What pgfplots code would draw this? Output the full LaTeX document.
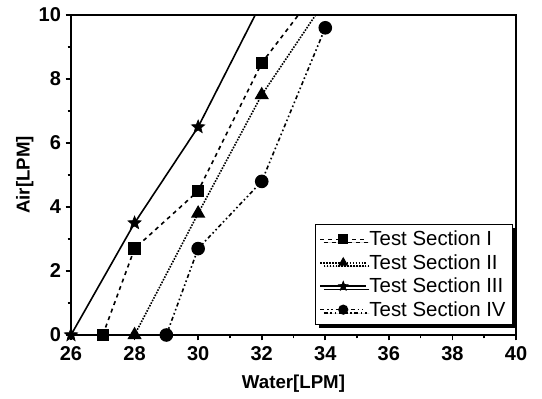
\documentclass[border=0pt]{standalone}
\usepackage{fontspec}
\setmainfont{Liberation Sans}
\usepackage{pgfplots}
\pgfplotsset{compat=1.18}
\usetikzlibrary{shadows}
\pgfdeclareplotmark{fstar}{%
  \pgfpathmoveto{\pgfqpointpolar{90}{1.15\pgfplotmarksize}}%
  \pgfpathlineto{\pgfqpointpolar{126}{0.5\pgfplotmarksize}}%
  \pgfpathlineto{\pgfqpointpolar{162}{1.15\pgfplotmarksize}}%
  \pgfpathlineto{\pgfqpointpolar{198}{0.5\pgfplotmarksize}}%
  \pgfpathlineto{\pgfqpointpolar{234}{1.15\pgfplotmarksize}}%
  \pgfpathlineto{\pgfqpointpolar{270}{0.5\pgfplotmarksize}}%
  \pgfpathlineto{\pgfqpointpolar{306}{1.15\pgfplotmarksize}}%
  \pgfpathlineto{\pgfqpointpolar{342}{0.5\pgfplotmarksize}}%
  \pgfpathlineto{\pgfqpointpolar{18}{1.15\pgfplotmarksize}}%
  \pgfpathlineto{\pgfqpointpolar{54}{0.5\pgfplotmarksize}}%
  \pgfpathclose
  \pgfusepathqfillstroke}
\begin{document}
\begin{tikzpicture}
\begin{axis}[
  scale only axis, width=333.75pt, height=240pt,
  xmin=26, xmax=40, ymin=0, ymax=10,
  xtick={26,28,...,40}, ytick={0,2,...,10},
  minor x tick num=1, minor y tick num=1,
  tick align=outside, tick pos=left,
  major tick length=4pt, minor tick length=2.5pt,
  axis line style={line width=1.5pt},
  every tick/.style={line width=1.2pt, black},
  ticklabel style={font=\fontsize{15}{16}\selectfont\bfseries},
  xticklabel style={yshift=-1pt},
  /pgf/number format/assume math mode=true,
  xlabel={\fontsize{14}{15}\selectfont\bfseries Water[LPM]},
  ylabel={\fontsize{14}{15}\selectfont\bfseries Air[LPM]},
  xlabel style={yshift=-4pt},
  ylabel style={yshift=-3pt},
  clip=true,
  legend style={at={(0.993,0.03)}, anchor=south east, draw=black, line width=1pt,
    font=\fontsize{15.3}{17}\selectfont, row sep=1pt, inner sep=3pt,
    drop shadow={shadow xshift=2.5pt, shadow yshift=-2.5pt, fill=black, opacity=1},
    fill=white},
  legend cell align=left,
  legend image code/.code={%
    \draw[line width=1.2pt, mark repeat=2, mark phase=2, mark size=3.2pt]
      plot coordinates {(0cm,0cm) (0.6cm,0cm) (1.2cm,0cm)};},
]
\addplot[black, line width=1.2pt, dashed, mark=square*, mark size=4pt, mark options={solid}]
  coordinates {(27,0) (28,2.7) (30,4.5) (32,8.5) (34,11.1)};
\addlegendentry{Test Section I}
\addplot[black, line width=1.2pt, densely dotted, mark=triangle*, mark size=5pt, mark options={solid}]
  coordinates {(28,0) (30,3.8) (32,7.5) (34,10.45)};
\addlegendentry{Test Section II}
\addplot[black, line width=1.2pt, solid, mark=fstar, mark size=4.5pt, mark options={solid, line width=0.5pt}]
  coordinates {(26,0) (28,3.5) (30,6.5) (32,10.4)};
\addlegendentry{Test Section III}
\addplot[black, line width=1.2pt, dash dot dot, mark=*, mark size=4.5pt, mark options={solid}]
  coordinates {(29,0) (30,2.7) (32,4.8) (34,9.6)};
\addlegendentry{Test Section IV}
\end{axis}
\pgfresetboundingbox
\path ([xshift=-53.25pt,yshift=-48pt]current axis.south west) rectangle ([xshift=19.5pt,yshift=11.25pt]current axis.north east);
\end{tikzpicture}
\end{document}
